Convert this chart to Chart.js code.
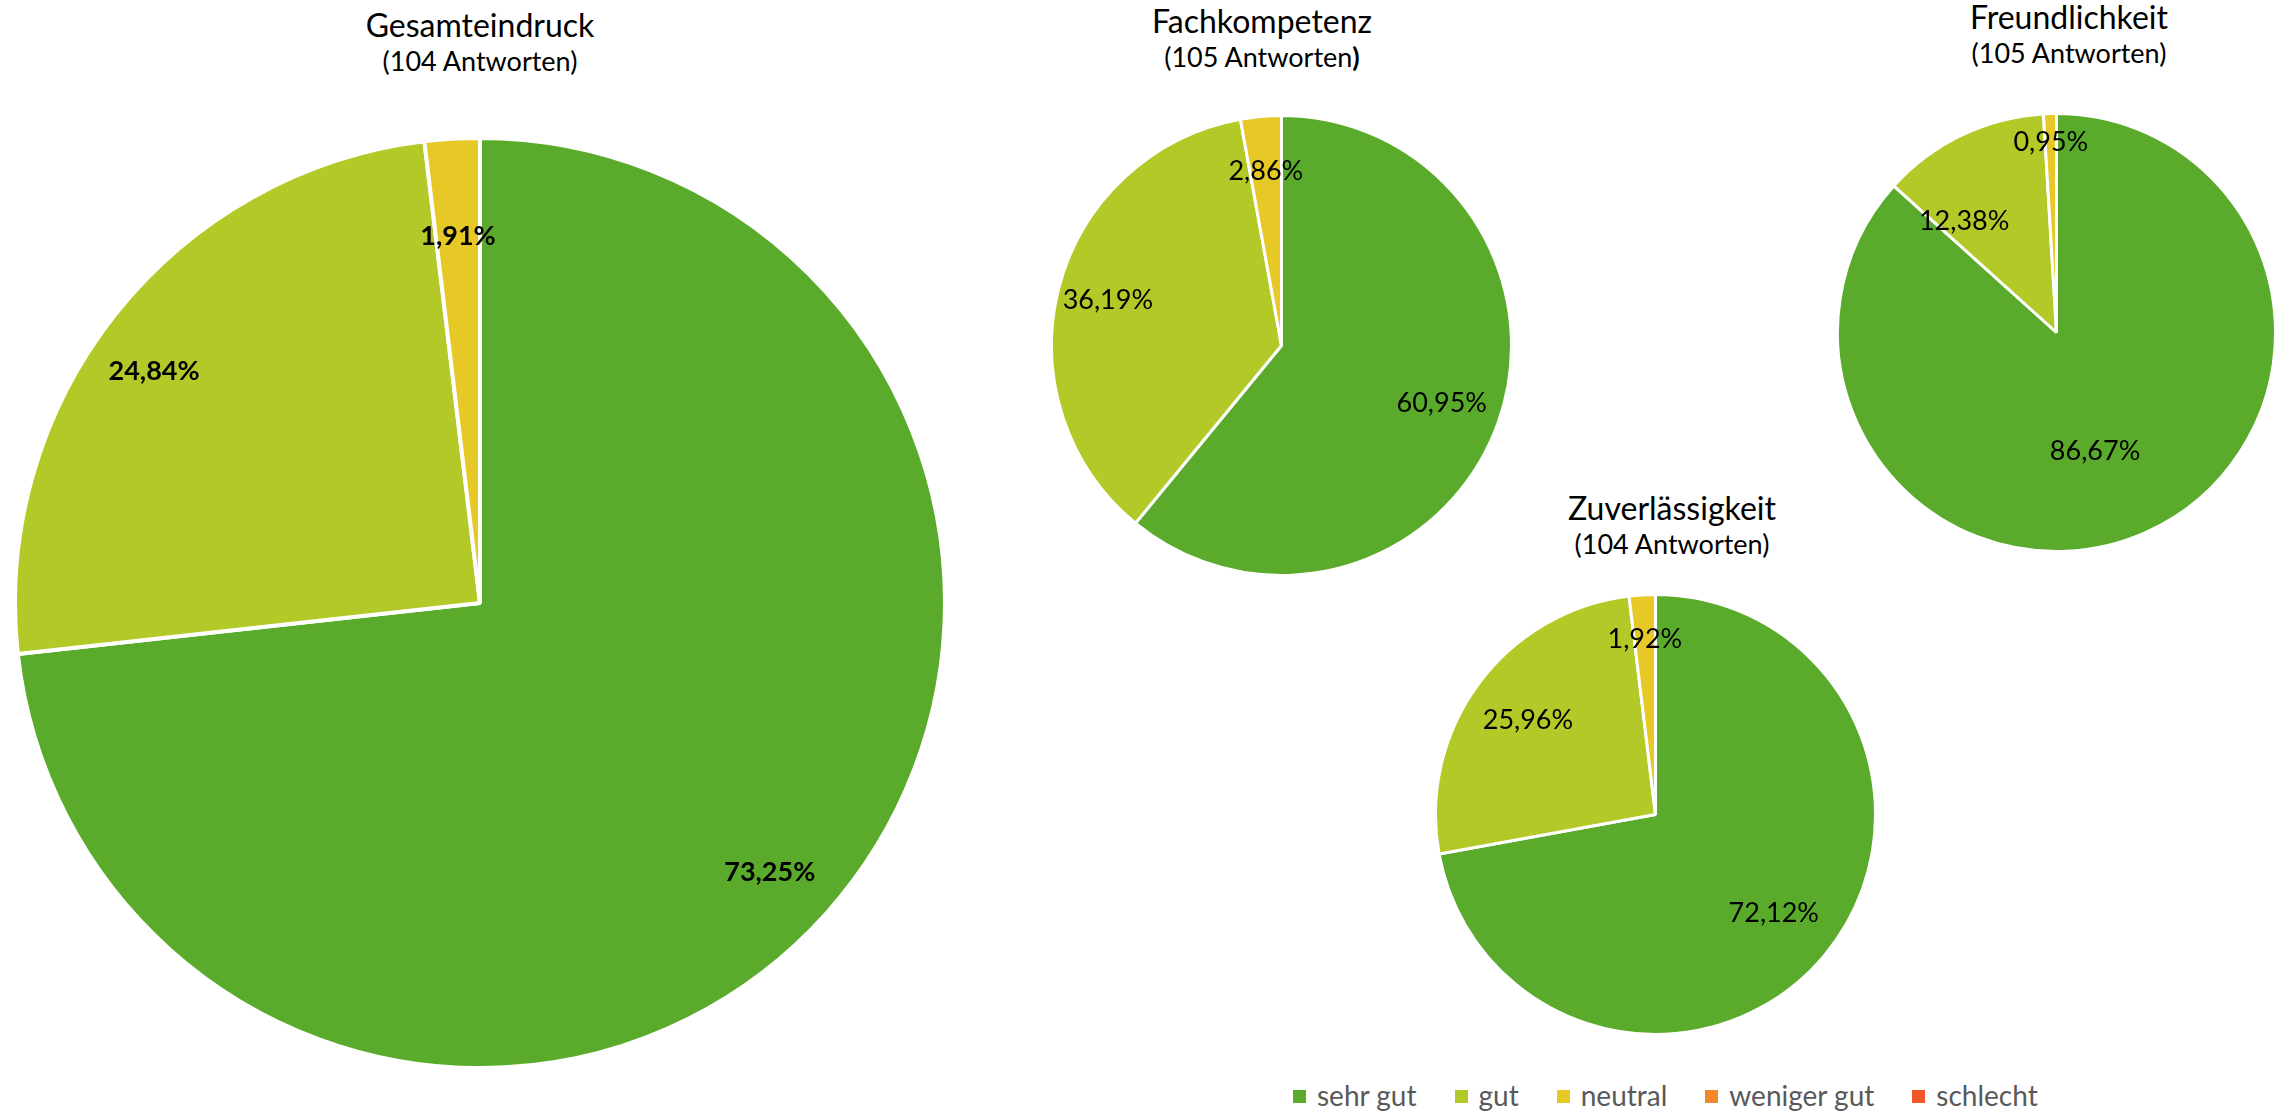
<!DOCTYPE html>
<html lang="de">
<head>
  <meta charset="UTF-8">
  <title>Umfrage Ergebnisse</title>
  <script src="https://cdn.jsdelivr.net/npm/chart.js"></script>
  <style>
    body { margin: 0; width: 2280px; height: 1112px; background: #fff; position: relative; overflow: hidden;
           font-family: Lato, "Open Sans", sans-serif; }
    canvas { position: absolute; }
    .title { position: absolute; transform: translateX(-50%); text-align: center; white-space: nowrap; color: #000; }
    .title .main { font-size: 32px; line-height: 38px; }
    .title .sub { font-size: 27px; line-height: 32px; margin-top: 1px; }
    #legend { position: absolute; left: 1293px; top: 1078px; display: flex; gap: 38px; font-size: 28px; color: #595959; }
    #legend span.sw { display: inline-block; width: 13px; height: 13px; margin-right: 11px; vertical-align: 3px; }
  </style>
</head>
<body>

<div id="legend"></div>

<script>
  const categories = ['sehr gut', 'gut', 'neutral', 'weniger gut', 'schlecht'];
  const colors = ['#5aab2c', '#b3c927', '#e6c826', '#f28a2d', '#f2572a'];

  const gesamteindruck = [73.25, 24.84, 1.91, 0, 0];
  const fachkompetenz = [60.95, 36.19, 2.86, 0, 0];
  const freundlichkeit = [86.67, 12.38, 0.95, 0, 0];
  const zuverlaessigkeit = [72.12, 25.96, 1.92, 0, 0];

  const titles = ['Gesamteindruck', 'Fachkompetenz', 'Freundlichkeit', 'Zuverlässigkeit'];
  const antworten = [104, 105, 105, 104];

  // layout of each pie: centre, radius, title position, label distance / angle nudge per slice
  const pies = [
    { data: gesamteindruck, cx: 480, cy: 603, r: 465, bw: 4, tx: 480, ty: 6, bold: true,
      pos: [0.85, 0.86, 0.79], ang: [1, -3, 0] },
    { data: fachkompetenz, cx: 1281, cy: 345, r: 230, bw: 3, tx: 1262, ty: 2,
      pos: [0.74, 0.78, 0.76], ang: [0, 0, 0] },
    { data: freundlichkeit, cx: 2056, cy: 332, r: 219, bw: 3, tx: 2069, ty: -2,
      pos: [0.57, 0.66, 0.87], ang: [6, -14, 0] },
    { data: zuverlaessigkeit, cx: 1655, cy: 814, r: 220, bw: 3, tx: 1672, ty: 489,
      pos: [0.70, 0.72, 0.80], ang: [0, 0, 0] }
  ];

  const pctLabels = {
    id: 'pctLabels',
    afterDatasetsDraw(chart, args, opts) {
      const ctx = chart.ctx;
      const meta = chart.getDatasetMeta(0);
      const vals = chart.data.datasets[0].data;
      ctx.save();
      ctx.font = (opts.bold ? 'bold ' : '') + '27px Lato, "Open Sans", sans-serif';
      ctx.fillStyle = '#000';
      ctx.textAlign = 'center';
      ctx.textBaseline = 'middle';
      meta.data.forEach((arc, i) => {
        if (!vals[i]) return;
        const mid = (arc.startAngle + arc.endAngle) / 2 + opts.ang[i] * Math.PI / 180;
        const rr = arc.outerRadius * opts.pos[i];
        const txt = vals[i].toFixed(2).replace('.', ',') + '%';
        ctx.fillText(txt, arc.x + Math.cos(mid) * rr, arc.y + Math.sin(mid) * rr);
      });
      ctx.restore();
    }
  };

  pies.forEach((p, k) => {
    const size = 2 * p.r + p.bw;
    const canvas = document.createElement('canvas');
    canvas.width = size;
    canvas.height = size;
    canvas.style.left = (p.cx - size / 2) + 'px';
    canvas.style.top = (p.cy - size / 2) + 'px';
    document.body.appendChild(canvas);

    const t = document.createElement('div');
    t.className = 'title';
    t.style.left = p.tx + 'px';
    t.style.top = p.ty + 'px';
    const sub = k === 1 ? `(${antworten[k]} Antworten<b>)</b>` : `(${antworten[k]} Antworten)`;
    t.innerHTML = `<div class="main">${titles[k]}</div><div class="sub">${sub}</div>`;
    document.body.appendChild(t);

    new Chart(canvas, {
      type: 'pie',
      data: {
        labels: categories,
        datasets: [{
          data: p.data,
          backgroundColor: colors,
          borderColor: '#fff',
          borderWidth: p.bw
        }]
      },
      options: {
        responsive: false,
        animation: false,
        layout: { padding: 0 },
        plugins: {
          legend: { display: false },
          tooltip: { enabled: false },
          pctLabels: { pos: p.pos, ang: p.ang, bold: !!p.bold }
        }
      },
      plugins: [pctLabels]
    });
  });

  const legend = document.getElementById('legend');
  categories.forEach((c, i) => {
    const item = document.createElement('div');
    item.innerHTML = `<span class="sw" style="background:${colors[i]}"></span>${c}`;
    legend.appendChild(item);
  });
</script>

</body>
</html>
